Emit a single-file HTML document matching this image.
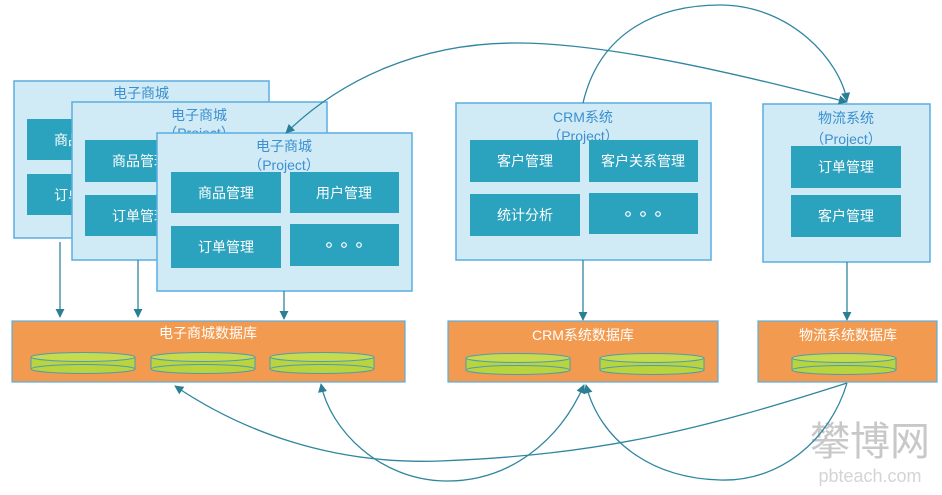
<!DOCTYPE html>
<html><head><meta charset="utf-8"><style>
body{margin:0;background:#fff;width:942px;height:490px;overflow:hidden;font-family:"Liberation Sans","Noto Sans CJK SC",sans-serif}
</style></head><body>
<svg width="942" height="490" xmlns="http://www.w3.org/2000/svg" font-family="Liberation Sans, Noto Sans CJK SC, sans-serif">
<defs>
<marker id="a" viewBox="0 0 10 10" refX="9" refY="5" markerWidth="7" markerHeight="7" orient="auto-start-reverse"><path d="M0,0L10,5L0,10z" fill="#2a7f95"/></marker>
<g id="disk"><rect x="-52" y="0" width="104" height="12" fill="#b9d43c"/><ellipse cx="0" cy="12" rx="52" ry="4.5" fill="#b9d43c" stroke="#4f9bb5" stroke-width="1"/><line x1="-52" y1="0" x2="-52" y2="12" stroke="#4f9bb5"/><line x1="52" y1="0" x2="52" y2="12" stroke="#4f9bb5"/><ellipse cx="0" cy="0" rx="52" ry="4.5" fill="#c6dc4e" stroke="#4f9bb5" stroke-width="1"/></g>
<g id="dots" fill="none" stroke="#fff" stroke-width="1.2"><circle cx="-15" cy="0" r="2.3"/><circle cx="0" cy="0" r="2.3"/><circle cx="15" cy="0" r="2.3"/></g>
</defs>
<rect x="14" y="81" width="255" height="157" fill="#d0ebf6" stroke="#5aaee0" stroke-width="1.5"/>
<g fill="#2ba2be"><rect x="27" y="119" width="110" height="41"/><rect x="27" y="174" width="110" height="41"/></g>
<g fill="#fff" font-size="14" text-anchor="middle"><text x="82" y="145">商品管理</text><text x="82" y="200">订单管理</text></g>
<text x="141" y="98" fill="#3c8fd0" font-size="14" text-anchor="middle">电子商城</text>
<rect x="72" y="102" width="255" height="158" fill="#d0ebf6" stroke="#5aaee0" stroke-width="1.5"/>
<g fill="#2ba2be"><rect x="85" y="140" width="110" height="42"/><rect x="85" y="195" width="110" height="41"/></g>
<g fill="#fff" font-size="14" text-anchor="middle"><text x="140" y="166">商品管理</text><text x="140" y="221">订单管理</text></g>
<text x="199" y="120" fill="#3c8fd0" font-size="14" text-anchor="middle">电子商城</text>
<text x="199" y="138" fill="#3c8fd0" font-size="14" text-anchor="middle">（Project）</text>
<rect x="157" y="133" width="255" height="158" fill="#d0ebf6" stroke="#5aaee0" stroke-width="1.5"/>
<text x="284" y="151" fill="#3c8fd0" font-size="14" text-anchor="middle">电子商城</text>
<text x="284" y="170" fill="#3c8fd0" font-size="14" text-anchor="middle">（Project）</text>
<g fill="#2ba2be"><rect x="171" y="172" width="110" height="41"/><rect x="290" y="172" width="109" height="41"/><rect x="171" y="226" width="110" height="42"/><rect x="290" y="224" width="109" height="42"/></g>
<g fill="#fff" font-size="14" text-anchor="middle"><text x="226" y="198">商品管理</text><text x="344" y="198">用户管理</text><text x="226" y="252">订单管理</text></g>
<use href="#dots" x="344" y="245"/>

<rect x="456" y="103" width="255" height="157" fill="#d0ebf6" stroke="#5aaee0" stroke-width="1.5"/>
<text x="583" y="122" fill="#3c8fd0" font-size="14" text-anchor="middle">CRM系统</text>
<text x="583" y="141" fill="#3c8fd0" font-size="14" text-anchor="middle">（Project）</text>
<g fill="#2ba2be"><rect x="470" y="140" width="110" height="42"/><rect x="589" y="140" width="109" height="42"/><rect x="470" y="194" width="110" height="42"/><rect x="589" y="193" width="109" height="41"/></g>
<g fill="#fff" font-size="14" text-anchor="middle"><text x="525" y="166">客户管理</text><text x="643" y="166">客户关系管理</text><text x="525" y="220">统计分析</text></g>
<use href="#dots" x="643" y="214"/>

<rect x="763" y="104" width="167" height="158" fill="#d0ebf6" stroke="#5aaee0" stroke-width="1.5"/>
<text x="846" y="123" fill="#3c8fd0" font-size="14" text-anchor="middle">物流系统</text>
<text x="846" y="144" fill="#3c8fd0" font-size="14" text-anchor="middle">（Project）</text>
<g fill="#2ba2be"><rect x="791" y="146" width="110" height="42"/><rect x="791" y="195" width="110" height="42"/></g>
<g fill="#fff" font-size="14" text-anchor="middle"><text x="846" y="172">订单管理</text><text x="846" y="221">客户管理</text></g>

<g fill="#f29a50" stroke="#5aaee0" stroke-width="1.2">
<rect x="12" y="321" width="393" height="61"/><rect x="448" y="321" width="270" height="61"/><rect x="758" y="321" width="179" height="61"/>
</g>
<g fill="#fff" font-size="14" text-anchor="middle"><text x="208" y="338">电子商城数据库</text><text x="583" y="340">CRM系统数据库</text><text x="848" y="340">物流系统数据库</text></g>
<use href="#disk" x="83" y="357"/><use href="#disk" x="203" y="357"/><use href="#disk" x="322" y="357"/>
<use href="#disk" x="518" y="358"/><use href="#disk" x="652" y="358"/><use href="#disk" x="844" y="358"/>

<text x="870" y="455" fill="#c8c8c8" font-size="40" text-anchor="middle">攀博网</text>
<text x="870" y="482" fill="#d4d4d4" font-size="18" text-anchor="middle">pbteach.com</text>

<g fill="none" stroke="#2f86a0" stroke-width="1.3" marker-end="url(#a)">
<line x1="60" y1="242" x2="60" y2="317"/>
<line x1="138" y1="260" x2="138" y2="317"/>
<line x1="284" y1="291" x2="284" y2="319"/>
<line x1="583" y1="260" x2="583" y2="320"/>
<line x1="847" y1="262" x2="847" y2="320"/>
<path d="M520,43 C 420,42 340,80 286,133"/>
<path d="M520,43 C 620,44 760,80 847,102"/>
<path d="M583,103 C 600,30 660,5 720,5 C 790,5 840,60 847,101"/>
<path d="M847,383 C 700,430 600,455 440,461 C 330,465 240,430 175,386"/>
<path d="M445,481 C 510,482 560,440 584,385"/>
<path d="M445,481 C 380,480 330,430 321,384"/>
<path d="M847,383 C 830,440 780,482 720,480 C 650,478 600,440 586,385"/>
</g>
</svg>
</body></html>
